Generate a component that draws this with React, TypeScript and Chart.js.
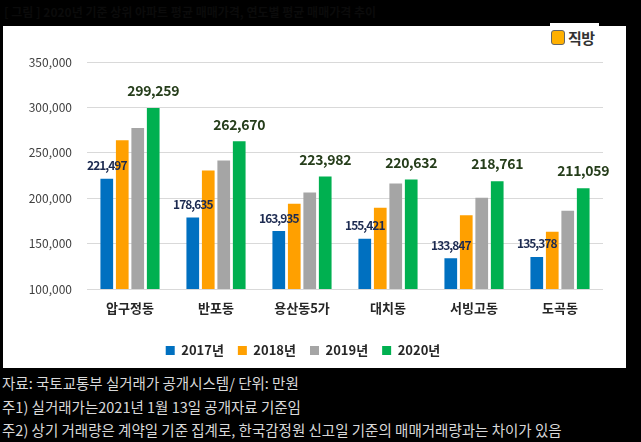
import React, { useEffect, useRef } from "react";
import { Chart, registerables } from "chart.js";

Chart.register(...registerables);

const categories = ["압구정동", "반포동", "용산동5가", "대치동", "서빙고동", "도곡동"];
const seriesNames = ["2017년", "2018년", "2019년", "2020년"];
const values2017 = [221497, 178635, 163935, 155421, 133847, 135378];
const values2018 = [263700, 230500, 194000, 189600, 181100, 163000];
const values2019 = [277300, 241600, 206200, 216100, 200600, 186300];
const values2020 = [299259, 262670, 223982, 220632, 218761, 211059];
const seriesColors = ["#0070C0", "#FFA000", "#A5A5A5", "#00B050"];
const yTicks = [100000, 150000, 200000, 250000, 300000, 350000];

const titleText = "[ 그림 ] 2020년 기준 상위 아파트 평균 매매가격, 연도별 평균 매매가격 추이";
const notes = [
  "자료: 국토교통부 실거래가 공개시스템/ 단위: 만원",
  "주1) 실거래가는2021년 1월 13일  공개자료 기준임",
  "주2) 상기 거래량은 계약일 기준 집계로, 한국감정원 신고일 기준의 매매거래량과는 차이가 있음",
];

const FONT = "'Noto Sans CJK KR', 'Noto Sans', sans-serif";

const valueLabels = {
  id: "valueLabels",
  afterDatasetsDraw(chart: any) {
    const ctx = chart.ctx;
    const styles: Record<number, { font: string; color: string; offset: number; spacing: string }> = {
      0: { font: `bold 12px ${FONT}`, color: "#1C2A50", offset: 13, spacing: "-1px" },
      3: { font: `bold 14px ${FONT}`, color: "#253D1A", offset: 17, spacing: "-0.3px" },
    };
    [0, 3].forEach((di) => {
      const meta = chart.getDatasetMeta(di);
      const st = styles[di];
      meta.data.forEach((bar: any, i: number) => {
        const v = chart.data.datasets[di].data[i] as number;
        ctx.save();
        ctx.font = st.font;
        (ctx as any).letterSpacing = st.spacing;
        ctx.fillStyle = st.color;
        ctx.textAlign = "center";
        ctx.textBaseline = "middle";
        ctx.fillText(v.toLocaleString("en-US"), bar.x, bar.y - st.offset);
        ctx.restore();
      });
    });
  },
};

export default function App() {
  const ref = useRef<HTMLCanvasElement>(null);

  useEffect(() => {
    document.body.style.margin = "0";
    document.body.style.background = "#000";
    const canvas = ref.current!;
    const allValues = [values2017, values2018, values2019, values2020];
    const chart = new Chart(canvas, {
      type: "bar",
      data: {
        labels: categories,
        datasets: seriesNames.map((name, i) => ({
          label: name,
          data: allValues[i],
          backgroundColor: seriesColors[i],
          borderWidth: 0,
          categoryPercentage: 0.72,
          barPercentage: 0.82,
        })),
      },
      options: {
        responsive: false,
        animation: false,
        devicePixelRatio: 1,
        layout: { padding: { left: 0, right: 23, top: 36, bottom: 1 } },
        plugins: {
          tooltip: { enabled: false },
          legend: {
            position: "bottom",
            labels: {
              boxWidth: 9,
              boxHeight: 9,
              padding: 14,
              color: "#262626",
              font: { family: FONT, size: 13, weight: "bold" },
            },
          },
        },
        scales: {
          x: {
            grid: { display: false, drawTicks: false },
            border: { display: false },
            ticks: {
              padding: 11,
              color: "#262626",
              font: { family: FONT, size: 13, weight: "bold" },
            },
            afterFit: (s: any) => {
              s.height = 41;
            },
          },
          y: {
            min: 100000,
            max: 350000,
            afterBuildTicks: (s: any) => {
              s.ticks = yTicks.map((v) => ({ value: v }));
            },
            grid: { color: "#D9D9D9", drawTicks: false, lineWidth: 1 },
            border: { display: false },
            ticks: {
              padding: 15,
              color: "#404040",
              font: { family: FONT, size: 12 },
              callback: (v: any) => Number(v).toLocaleString("en-US"),
            },
            afterFit: (s: any) => {
              s.width = 84;
            },
          },
        },
      },
      plugins: [valueLabels],
    });
    return () => chart.destroy();
  }, []);

  return (
    <div style={{ position: "relative", width: 641, height: 442, background: "#000", overflow: "hidden", fontFamily: FONT }}>
      <div style={{ position: "absolute", left: 4, top: 3, fontSize: 12, color: "#0B0B0B", fontWeight: "bold", whiteSpace: "nowrap" }}>
        {titleText}
      </div>
      <div style={{ position: "absolute", left: 3, top: 26, width: 623, height: 342, background: "#fff" }}>
        <canvas ref={ref} width={623} height={342} style={{ display: "block" }} />
      </div>
      <div style={{ position: "absolute", left: 550, top: 23, width: 49, height: 28, background: "#fff", display: "flex", alignItems: "center", gap: 3 }}>
        <div style={{ width: 12, height: 13, borderRadius: 3, border: "1px solid #666", background: "#FFB000", marginLeft: 1 }} />
        <span style={{ fontSize: 15, fontWeight: "bold", color: "#333", letterSpacing: -0.5 }}>직방</span>
      </div>
      {notes.map((n, i) => (
        <div key={i} style={{ position: "absolute", left: 2, top: [372, 396, 419][i], fontSize: 14.5, color: "#D9D9D9", whiteSpace: "nowrap" }}>
          {n}
        </div>
      ))}
    </div>
  );
}
